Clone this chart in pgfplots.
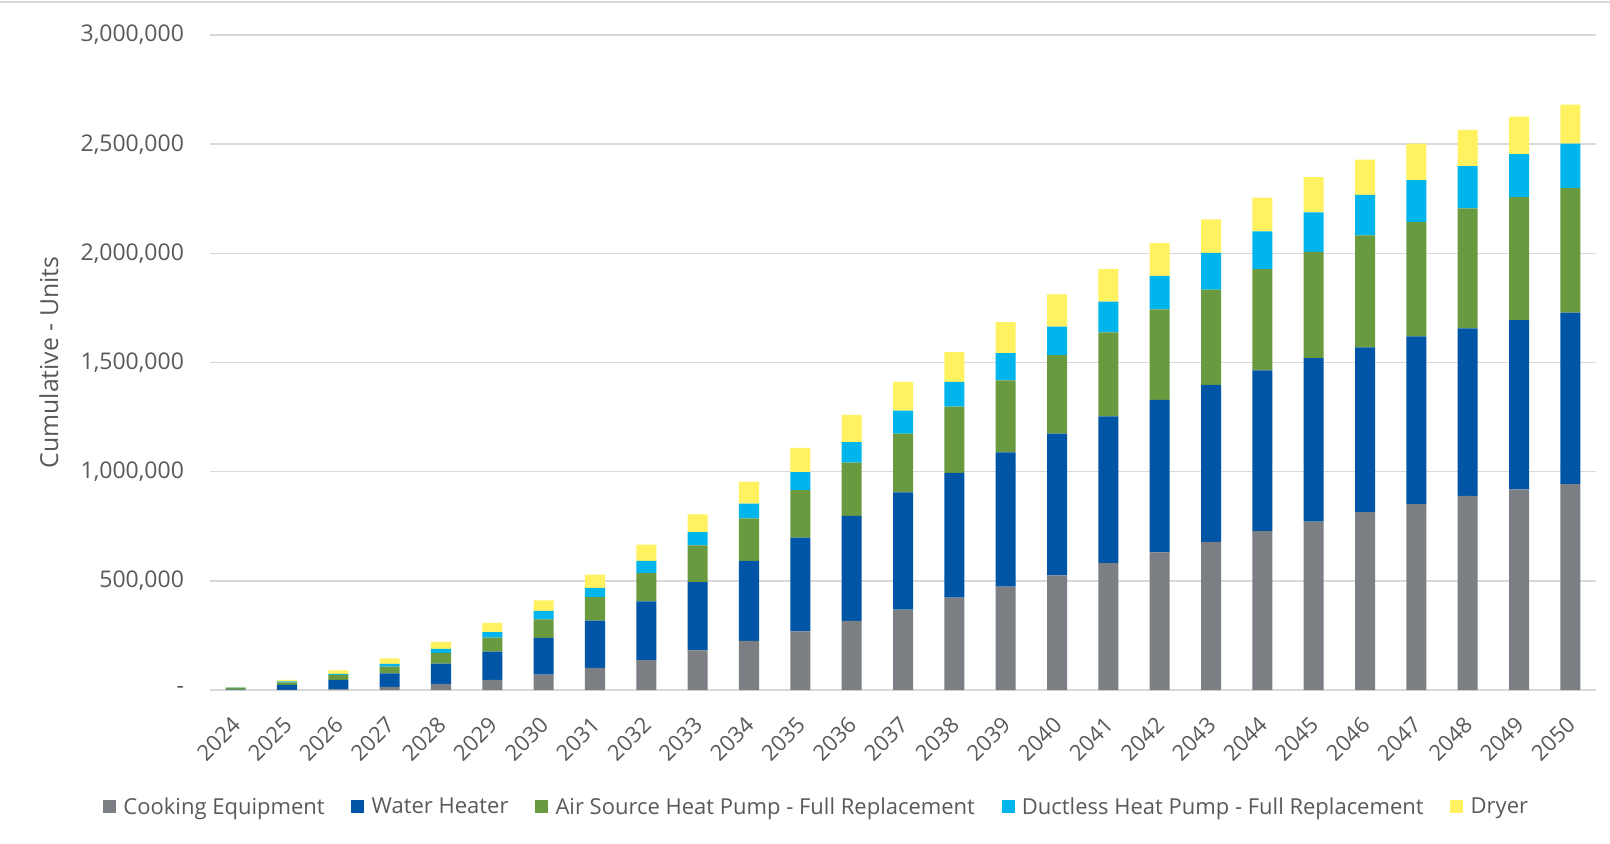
\documentclass[border=0pt]{standalone}
\usepackage{pgfplots}
\pgfplotsset{compat=1.18}
\usepackage{pgfplotstable}
\usepackage{fontspec}
\setmainfont{Open Sans}

\definecolor{cookgray}{HTML}{7B7F83}
\definecolor{heaterblue}{HTML}{0055A6}
\definecolor{ashpgreen}{HTML}{6A9A40}
\definecolor{ductcyan}{HTML}{00B4EC}
\definecolor{dryeryellow}{HTML}{FFF15F}
\definecolor{txtgray}{HTML}{595959}
\definecolor{gridgray}{HTML}{D9D9D9}

% Cumulative units by end use, 2024-2050
\pgfplotstableread{
year cooking heater ashp ductless dryer
2024 500 1000 8000 1000 3000
2025 1000 22000 12000 5000 6000
2026 3000 44000 22000 5000 16000
2027 14000 62000 31000 13000 25000
2028 28000 93000 49000 18000 32000
2029 46000 130000 64000 25000 42000
2030 70000 169000 85000 38000 49000
2031 101000 217000 107000 43000 61000
2032 137000 269000 129000 57000 74000
2033 182000 312000 168000 61000 82000
2034 225000 367000 194000 68000 100000
2035 268000 430000 217000 83000 111000
2036 317000 481000 244000 93000 125000
2037 368000 537000 269000 106000 131000
2038 423000 571000 304000 113000 137000
2039 474000 614000 330000 125000 142000
2040 525000 649000 360000 130000 148000
2041 581000 672000 385000 141000 149000
2042 630000 699000 414000 154000 150000
2043 679000 718000 437000 168000 154000
2044 728000 736000 464000 173000 154000
2045 771000 749000 487000 181000 161000
2046 815000 754000 513000 186000 161000
2047 851000 769000 523000 192000 168000
2048 889000 767000 550000 194000 165000
2049 919000 775000 563000 197000 172000
2050 943000 786000 570000 204000 178000
}\units

\pgfplotsset{
  sq/.style={legend image code/.code={%
    \draw[##1,draw=none] (0pt,-3.1pt) rectangle (6.5pt,3.4pt);}},
}

\begin{document}
\begin{tikzpicture}[x=1pt,y=1pt]
\useasboundingbox (0,0) rectangle (805,421.5);
\draw[gridgray, line width=1pt] (0,420.3) -- (805,420.3);
\begin{axis}[
  at={(105pt,76.5pt)}, anchor=south west,
  scale only axis, width=693pt, height=327.5pt,
  ybar stacked, bar width=0.39,
  xmin=-0.5, xmax=26.5, ymin=0, ymax=3000000,
  scaled y ticks=false,
  xtick={0,...,26},
  xticklabels from table={\units}{year},
  ytick={0,500000,1000000,1500000,2000000,2500000,3000000},
  yticklabels={-,{500,000},{1,000,000},{1,500,000},{2,000,000},{2,500,000},{3,000,000}},
  ymajorgrids, grid style={gridgray, line width=0.8pt},
  axis line style={draw=none}, tick style={draw=none},
  tick label style={font=\fontsize{11.5}{13}\selectfont, text=txtgray},
  yticklabel style={xshift=-9.5pt},
  % shifts below act in the rotated frame of the label
  xticklabel style={font=\fontsize{11}{12}\selectfont, rotate=45, anchor=north east, inner sep=0pt, xshift=-10.5pt, yshift=-6.9pt},
  every axis y label/.style={at={(axis description cs:-0.1162,0.5)}, rotate=90, anchor=center},
  ylabel={Cumulative - Units},
  label style={font=\fontsize{12.4}{14}\selectfont, text=txtgray},
  legend style={at={(axis description cs:0.437,-0.179)}, anchor=center,
    draw=none, fill=none, legend columns=-1,
    font=\fontsize{11}{13}\selectfont, text=txtgray,
    nodes={inner sep=0pt},
    /tikz/every even column/.append style={column sep=13.4pt},
    /tikz/every odd column/.append style={column sep=3.6pt}},
]
\addplot+[sq, fill=cookgray, draw=none] table[x expr=\coordindex, y=cooking] {\units};
\addplot+[sq, fill=heaterblue, draw=none] table[x expr=\coordindex, y=heater] {\units};
\addplot+[sq, fill=ashpgreen, draw=none] table[x expr=\coordindex, y=ashp] {\units};
\addplot+[sq, fill=ductcyan, draw=none] table[x expr=\coordindex, y=ductless] {\units};
\addplot+[sq, fill=dryeryellow, draw=none] table[x expr=\coordindex, y=dryer] {\units};
\legend{Cooking Equipment, Water Heater, Air Source Heat Pump - Full Replacement, Ductless Heat Pump - Full Replacement, Dryer}
\end{axis}
\end{tikzpicture}
\end{document}
